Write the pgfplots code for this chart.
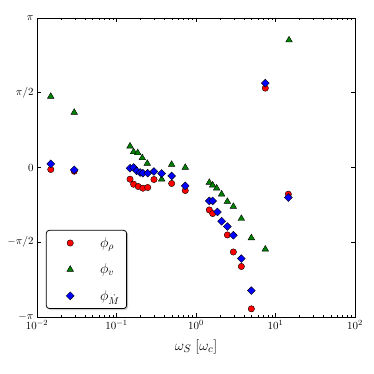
\documentclass[border=0pt]{standalone}
\usepackage{pgfplots}
\pgfplotsset{compat=1.18}
\usetikzlibrary{shadows}
\definecolor{mplgreen}{RGB}{0,128,0}

\begin{document}
\begin{tikzpicture}
\begin{axis}[
  name=ax,
  scale only axis,
  width=318bp, height=299bp,
  xmode=log,
  xmin=1e-2, xmax=1e2,
  ymin=-3.14159265, ymax=3.14159265,
  ytick={-3.14159265,-1.5707963,0,1.5707963,3.14159265},
  yticklabels={$-\pi$,$-\pi/2$,$0$,$\pi/2$,$\pi$},
  xlabel={\fontsize{15}{18}\selectfont $\omega_S\;[\omega_c]$},
  xlabel style={yshift=-3pt},
  tick align=inside,
  major tick length=4bp,
  minor tick length=2bp,
  axis line style={line width=0.8pt},
  every tick/.style={black, line width=0.5pt},
  xticklabel style={font=\fontsize{11}{13}\selectfont},
  yticklabel style={font=\fontsize{11}{13}\selectfont},
  legend style={
    at={(0.028,0.027)}, anchor=south west,
    draw=black, line width=0.8pt, rounded corners=3pt,
    fill=white,
    drop shadow={shadow xshift=1.5pt, shadow yshift=-1.5pt, fill=gray!70},
    font=\Large, row sep=11pt, inner sep=5pt,
  },
  legend cell align=left,
  legend image code/.code={
    \pgfpathrectangle{\pgfqpoint{0pt}{-2pt}}{\pgfqpoint{47pt}{4pt}}%
    \pgfusepath{discard}%
    \draw[mark repeat=2, mark phase=2, #1, only marks]
      plot coordinates {(0pt,0pt)(19pt,0pt)(38pt,0pt)};
  },
]
% phi_rho
\addplot[only marks, mark=*, mark size=3.2pt,
  mark options={fill=red, draw=black, line width=0.4pt}]
coordinates {
(0.0149,-0.042)(0.0294,-0.078)(0.148,-0.246)(0.164,-0.351)(0.188,-0.40)
(0.215,-0.435)(0.247,-0.42)(0.296,-0.252)(0.494,-0.336)(0.733,-0.484)
(1.47,-0.892)(1.62,-0.967)(2.48,-1.417)(2.95,-1.775)(3.72,-2.08)
(4.97,-2.97)(7.45,1.668)(14.5,-0.561)
};
% phi_v
\addplot[only marks, mark=triangle*, mark size=3.8pt,
  mark options={fill=mplgreen, draw=black, line width=0.4pt}]
coordinates {
(0.0149,1.493)(0.0294,1.157)(0.148,0.448)(0.164,0.328)(0.185,0.307)
(0.211,0.202)(0.244,0.084)(0.370,-0.246)(0.494,0.063)(0.733,0.0)
(1.47,-0.316)(1.62,-0.372)(1.82,-0.435)(2.10,-0.561)(2.48,-0.715)
(2.95,-0.820)(3.72,-1.073)(4.97,-1.48)(7.45,-1.718)(14.8,2.677)
};
% phi_Mdot
\addplot[only marks, mark=square*, mark size=2.8pt,
  mark options={rotate=45, fill=blue, draw=black, line width=0.4pt}]
coordinates {
(0.0149,0.076)(0.0294,-0.05)(0.148,-0.015)(0.164,0.0)(0.179,-0.07)
(0.198,-0.105)(0.215,-0.12)(0.247,-0.12)(0.296,-0.084)(0.370,-0.126)
(0.494,-0.177)(0.733,-0.387)(1.47,-0.702)(1.62,-0.702)(1.86,-0.934)
(2.10,-1.129)(2.48,-1.241)(2.95,-1.424)(3.72,-1.914)(4.97,-2.587)
(7.45,1.773)(14.5,-0.631)
};
\legend{$\phi_\rho$\hspace{5pt},$\phi_v$,$\phi_{\dot M}$}
\end{axis}
\path ([xshift=-37bp,yshift=-57bp]ax.south west) rectangle ([xshift=19bp,yshift=18bp]ax.north east);
\end{tikzpicture}
\end{document}
